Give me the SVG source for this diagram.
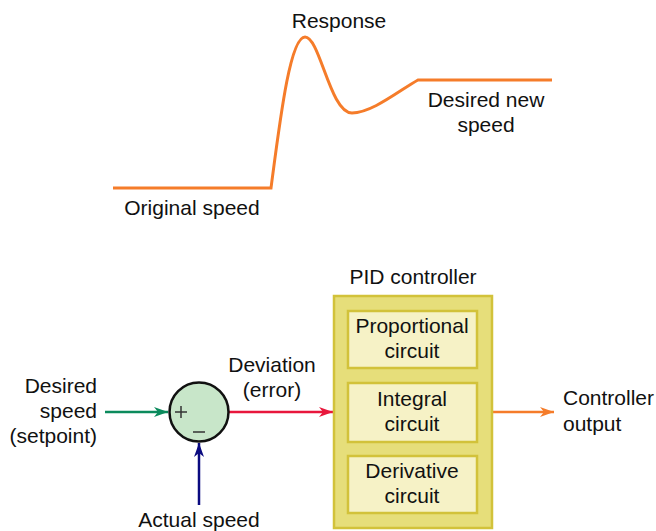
<svg xmlns="http://www.w3.org/2000/svg" width="656" height="531" viewBox="0 0 656 531">
<style>
text{font-family:"Liberation Sans",Arial,sans-serif;font-size:21px;fill:#111}
.c{text-anchor:middle}
.r{text-anchor:end}
.outer{fill:#e6de7a;stroke:#d2c23a;stroke-width:2.5}
.inner{fill:#f6f2c6;stroke:#d2c23a;stroke-width:2.5}
.ln{fill:none;stroke-width:2.5}
</style>
<defs>
<marker id="ag" viewBox="0 0 14 10" refX="14" refY="5" markerWidth="14" markerHeight="10" markerUnits="userSpaceOnUse" orient="auto"><path d="M0,0 L14,5 L0,10 L4,5 z" fill="#0b8a5c"/></marker>
<marker id="ar" viewBox="0 0 14 10" refX="14" refY="5" markerWidth="14" markerHeight="10" markerUnits="userSpaceOnUse" orient="auto"><path d="M0,0 L14,5 L0,10 L4,5 z" fill="#e8173c"/></marker>
<marker id="ab" viewBox="0 0 14 10" refX="14" refY="5" markerWidth="14" markerHeight="10" markerUnits="userSpaceOnUse" orient="auto"><path d="M0,0 L14,5 L0,10 L4,5 z" fill="#0a0a80"/></marker>
<marker id="ao" viewBox="0 0 14 10" refX="14" refY="5" markerWidth="14" markerHeight="10" markerUnits="userSpaceOnUse" orient="auto"><path d="M0,0 L14,5 L0,10 L4,5 z" fill="#f57c2a"/></marker>
</defs>
<g id="response-graph">
<path d="M113,188 L271,188 C280,120 290,37 305,37 C320,37 330,113 352,113 C372,113 400,90 418,80 L552,80" fill="none" stroke="#f57c2a" stroke-width="3"/>
<text class="c" x="339" y="28">Response</text>
<text class="c" x="486" y="107">Desired new</text>
<text class="c" x="486" y="132">speed</text>
<text class="c" x="192" y="215">Original speed</text>
</g>
<g id="connectors">
<line class="ln" x1="105" y1="412" x2="168" y2="412" stroke="#0b8a5c" marker-end="url(#ag)"/>
<line class="ln" x1="229" y1="412" x2="333" y2="412" stroke="#e8173c" marker-end="url(#ar)"/>
<line class="ln" x1="199" y1="505" x2="199" y2="443" stroke="#0a0a80" marker-end="url(#ab)"/>
<line class="ln" x1="493" y1="412" x2="554" y2="412" stroke="#f57c2a" marker-end="url(#ao)"/>
</g>
<g id="setpoint">
<text class="r" x="97" y="393">Desired</text>
<text class="r" x="97" y="418">speed</text>
<text class="r" x="97" y="443">(setpoint)</text>
</g>
<g id="summer">
<circle cx="199" cy="412" r="29.5" fill="#c8e6c9" stroke="#111" stroke-width="2.5"/>
<path d="M175,412 H187 M181,406 V418 M193,432 H205" stroke="#333" stroke-width="1.5"/>
</g>
<g id="deviation">
<text class="c" x="272" y="372">Deviation</text>
<text class="c" x="272" y="397">(error)</text>
</g>
<g id="actual">
<text class="c" x="199" y="527">Actual speed</text>
</g>
<g id="pid">
<text class="c" x="413" y="284">PID controller</text>
<rect class="outer" x="334" y="296" width="158" height="232"/>
</g>
<g id="proportional">
<rect class="inner" x="348" y="311" width="129" height="57"/>
<text class="c" x="412" y="333">Proportional</text>
<text class="c" x="412" y="358">circuit</text>
</g>
<g id="integral">
<rect class="inner" x="348" y="383" width="129" height="59"/>
<text class="c" x="412" y="406">Integral</text>
<text class="c" x="412" y="431">circuit</text>
</g>
<g id="derivative">
<rect class="inner" x="348" y="456" width="129" height="57"/>
<text class="c" x="412" y="478">Derivative</text>
<text class="c" x="412" y="503">circuit</text>
</g>
<g id="output">
<text x="563" y="405">Controller</text>
<text x="563" y="431">output</text>
</g>
</svg>
